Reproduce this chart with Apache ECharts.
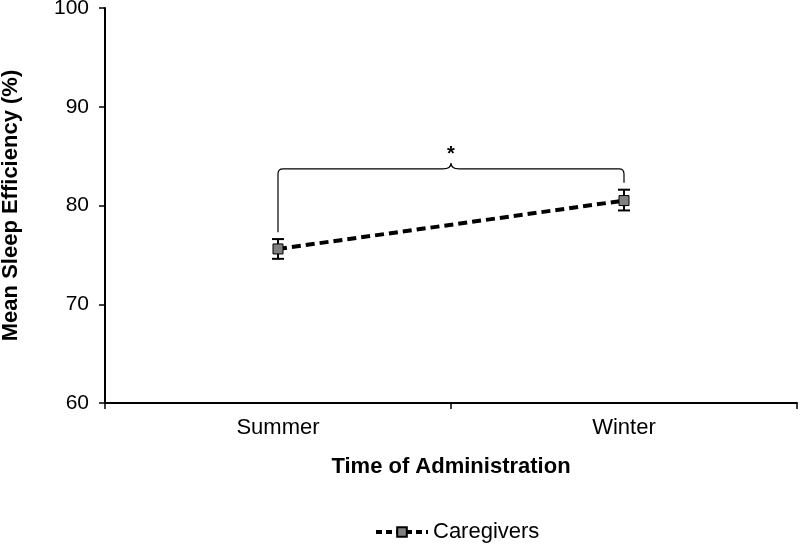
<!DOCTYPE html>
<html>
<head>
<meta charset="utf-8">
<script src="https://cdn.jsdelivr.net/npm/echarts@6/dist/echarts.min.js"></script>
<style>html,body{margin:0;padding:0;background:#fff}#c{width:800px;height:550px}</style>
</head>
<body>
<div id="c"></div>
<script>
var categories = ['Summer', 'Winter'];
var means = [75.6, 80.5];
var errLow = [74.6, 79.5];
var errHigh = [76.6, 81.6];
var yTicks = [60, 70, 80, 90, 100];
// significance bracket: [left bottom, right bottom, top line, peak, star]
var bracketLeftBottom = 77.3;
var bracketRightBottom = 82.3;
var bracketTop = 83.7;
var bracketPeak = 84.3;
var starValue = 85.2;

var chart = echarts.init(document.getElementById('c'));
var font = 'Liberation Sans, Arial, sans-serif';

chart.setOption({
  animation: false,
  grid: { left: 105, right: 3, top: 8, bottom: 147, containLabel: false, outerBoundsMode: 'none' },
  xAxis: {
    type: 'category',
    data: categories,
    boundaryGap: true,
    name: 'Time of Administration',
    nameLocation: 'middle',
    nameGap: 53,
    nameTextStyle: { fontFamily: font, fontSize: 22, fontWeight: 'bold', color: '#000' },
    axisLine: { lineStyle: { color: '#000', width: 2 } },
    axisTick: { show: true, length: 6, lineStyle: { color: '#000', width: 1.5 } },
    axisLabel: { fontFamily: font, fontSize: 22, color: '#000', margin: 14 },
    splitLine: { show: false }
  },
  yAxis: {
    type: 'value',
    min: yTicks[0],
    max: yTicks[yTicks.length - 1],
    interval: 10,
    name: 'Mean Sleep Efficiency (%)',
    nameLocation: 'middle',
    nameGap: 83,
    nameTextStyle: { fontFamily: font, fontSize: 22, fontWeight: 'bold', color: '#000' },
    axisLine: { show: true, lineStyle: { color: '#000', width: 2 } },
    axisTick: { show: true, length: 6, lineStyle: { color: '#000', width: 1.5 } },
    axisLabel: { fontFamily: font, fontSize: 21, color: '#000', margin: 16 },
    splitLine: { show: false }
  },
  legend: {
    bottom: 2,
    left: 369,
    itemWidth: 52,
    itemHeight: 12,
    itemGap: 8,
    lineStyle: { width: 4, type: [6, 4], color: '#000' },
    textStyle: { fontFamily: font, fontSize: 22, color: '#000' },
    data: ['Caregivers']
  },
  series: [
    {
      name: 'Caregivers',
      type: 'line',
      data: means,
      symbol: 'rect',
      symbolSize: 10,
      itemStyle: { color: '#808080', borderColor: '#000', borderWidth: 1 },
      lineStyle: { color: '#000', width: 4, type: [9, 5] },
      z: 3
    },
    {
      type: 'custom',
      name: 'err',
      data: categories.map(function (c, i) { return [i, errLow[i], errHigh[i]]; }),
      renderItem: function (params, api) {
        var x = api.value(0);
        var lo = api.coord([x, api.value(1)]);
        var hi = api.coord([x, api.value(2)]);
        var hw = 6;
        var st = { stroke: '#000', lineWidth: 2 };
        return {
          type: 'group',
          children: [
            { type: 'line', shape: { x1: lo[0], y1: lo[1], x2: hi[0], y2: hi[1] }, style: st },
            { type: 'line', shape: { x1: lo[0] - hw, y1: lo[1], x2: lo[0] + hw, y2: lo[1] }, style: st },
            { type: 'line', shape: { x1: hi[0] - hw, y1: hi[1], x2: hi[0] + hw, y2: hi[1] }, style: st }
          ]
        };
      },
      z: 2,
      silent: true
    },
    {
      type: 'custom',
      name: 'bracket',
      data: [[0, bracketLeftBottom, bracketRightBottom, bracketTop, bracketPeak, starValue]],
      renderItem: function (params, api) {
        var lb = api.coord([0, api.value(1)]);
        var rb = api.coord([1, api.value(2)]);
        var tl = api.coord([0, api.value(3)]);
        var tr = api.coord([1, api.value(3)]);
        var peakY = api.coord([0, api.value(4)])[1];
        var starY = api.coord([0, api.value(5)])[1];
        var mx = (tl[0] + tr[0]) / 2;
        var r = 5;
        var ty = tl[1];
        var path = 'M' + lb[0] + ' ' + lb[1] +
          ' L' + tl[0] + ' ' + (ty + r) +
          ' Q' + tl[0] + ' ' + ty + ' ' + (tl[0] + r) + ' ' + ty +
          ' L' + (mx - 8) + ' ' + ty +
          ' Q' + mx + ' ' + ty + ' ' + mx + ' ' + peakY +
          ' Q' + mx + ' ' + ty + ' ' + (mx + 8) + ' ' + ty +
          ' L' + (tr[0] - r) + ' ' + ty +
          ' Q' + tr[0] + ' ' + ty + ' ' + tr[0] + ' ' + (ty + r) +
          ' L' + rb[0] + ' ' + rb[1];
        return {
          type: 'group',
          children: [
            { type: 'path', shape: { pathData: path }, style: { stroke: '#000', lineWidth: 1.2, fill: null } },
            { type: 'text', x: mx, y: starY, style: { text: '*', fontFamily: font, fontSize: 20, fontWeight: 'bold', fill: '#000', align: 'center', verticalAlign: 'middle' } }
          ]
        };
      },
      silent: true,
      z: 1
    }
  ]
});
</script>
</body>
</html>
